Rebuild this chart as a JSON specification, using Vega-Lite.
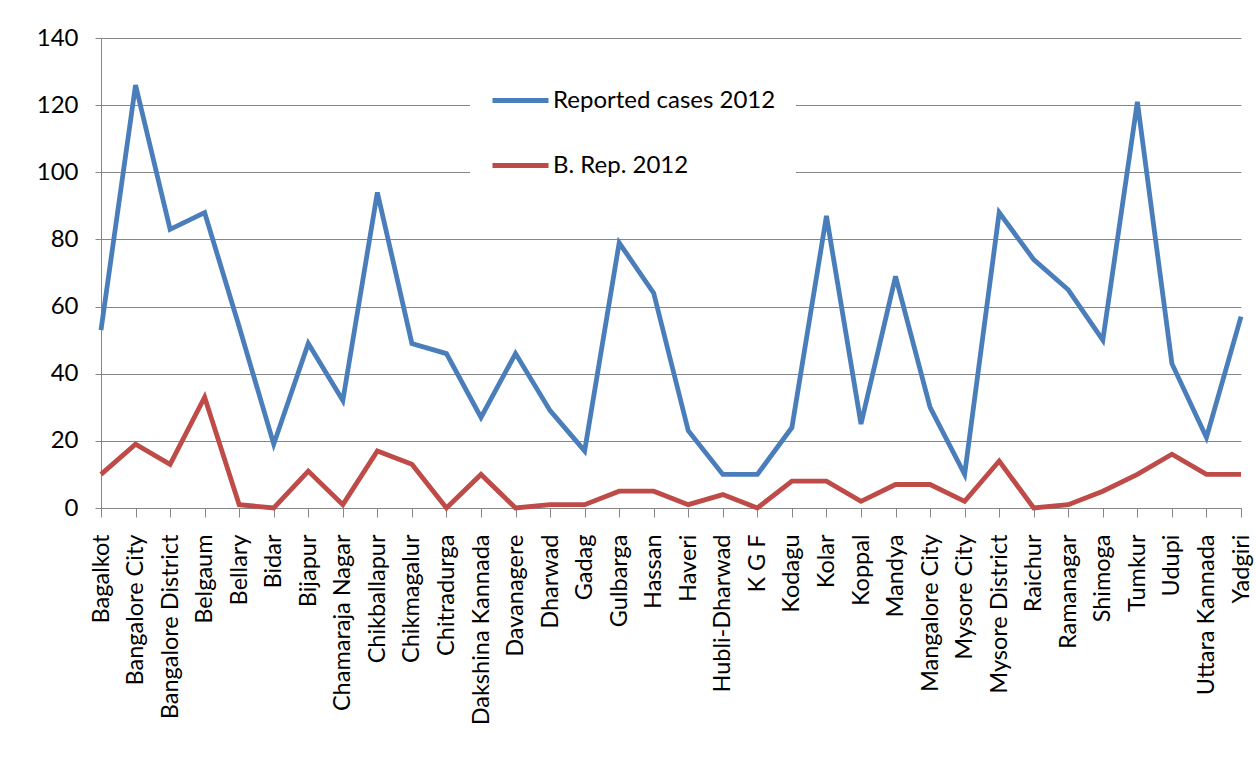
{
  "$schema": "https://vega.github.io/schema/vega-lite/v6.json",
  "width": 1140,
  "height": 470,
  "autosize": {"type": "none"},
  "padding": {"left": 101, "top": 38, "right": 15, "bottom": 249},
  "background": "white",
  "config": {
    "view": {"stroke": null},
    "font": "Lato"
  },
  "data": {
    "values": [
      {"district": "Bagalkot", "reported": 53, "brep": 10},
      {"district": "Bangalore City", "reported": 126, "brep": 19},
      {"district": "Bangalore District", "reported": 83, "brep": 13},
      {"district": "Belgaum", "reported": 88, "brep": 33},
      {"district": "Bellary", "reported": 54, "brep": 1},
      {"district": "Bidar", "reported": 19, "brep": 0},
      {"district": "Bijapur", "reported": 49, "brep": 11},
      {"district": "Chamaraja Nagar", "reported": 32, "brep": 1},
      {"district": "Chikballapur", "reported": 94, "brep": 17},
      {"district": "Chikmagalur", "reported": 49, "brep": 13},
      {"district": "Chitradurga", "reported": 46, "brep": 0},
      {"district": "Dakshina Kannada", "reported": 27, "brep": 10},
      {"district": "Davanagere", "reported": 46, "brep": 0},
      {"district": "Dharwad", "reported": 29, "brep": 1},
      {"district": "Gadag", "reported": 17, "brep": 1},
      {"district": "Gulbarga", "reported": 79, "brep": 5},
      {"district": "Hassan", "reported": 64, "brep": 5},
      {"district": "Haveri", "reported": 23, "brep": 1},
      {"district": "Hubli-Dharwad", "reported": 10, "brep": 4},
      {"district": "K G F", "reported": 10, "brep": 0},
      {"district": "Kodagu", "reported": 24, "brep": 8},
      {"district": "Kolar", "reported": 87, "brep": 8},
      {"district": "Koppal", "reported": 25, "brep": 2},
      {"district": "Mandya", "reported": 69, "brep": 7},
      {"district": "Mangalore City", "reported": 30, "brep": 7},
      {"district": "Mysore City", "reported": 10, "brep": 2},
      {"district": "Mysore District", "reported": 88, "brep": 14},
      {"district": "Raichur", "reported": 74, "brep": 0},
      {"district": "Ramanagar", "reported": 65, "brep": 1},
      {"district": "Shimoga", "reported": 50, "brep": 5},
      {"district": "Tumkur", "reported": 121, "brep": 10},
      {"district": "Udupi", "reported": 43, "brep": 16},
      {"district": "Uttara Kannada", "reported": 21, "brep": 10},
      {"district": "Yadgiri", "reported": 57, "brep": 10}
    ]
  },
  "transform": [
    {"fold": ["reported", "brep"], "as": ["series", "value"]}
  ],
  "mark": {"type": "line", "strokeWidth": 4.8},
  "encoding": {
    "x": {
      "field": "district",
      "type": "ordinal",
      "sort": null,
      "scale": {"type": "point", "padding": 0},
      "axis": {
        "title": null,
        "labelAngle": -90,
        "labelAlign": "right",
        "labelBaseline": "middle",
        "labelFontSize": 23.5,
        "labelColor": "#000000",
        "labelPadding": 17,
        "tickSize": 9,
        "tickColor": "#868686",
        "domainColor": "#868686",
        "labelLimit": 300,
        "grid": false
      }
    },
    "y": {
      "field": "value",
      "type": "quantitative",
      "scale": {"domain": [0, 140], "nice": false},
      "axis": {
        "title": null,
        "values": [0, 20, 40, 60, 80, 100, 120, 140],
        "labelFontSize": 24,
        "labelColor": "#000000",
        "labelPadding": 17,
        "tickSize": 6,
        "tickColor": "#868686",
        "domainColor": "#868686",
        "grid": true,
        "gridColor": "#868686",
        "gridOpacity": 1
      }
    },
    "color": {
      "field": "series",
      "type": "nominal",
      "scale": {
        "domain": ["reported", "brep"],
        "range": ["#4A7EBB", "#BE4B48"]
      },
      "legend": {
        "title": null,
        "orient": "none",
        "legendX": 369,
        "legendY": 12,
        "fillColor": "white",
        "padding": 20,
        "symbolType": "stroke",
        "symbolSize": 3136,
        "symbolStrokeWidth": 4.8,
        "labelFontSize": 24,
        "labelColor": "#000000",
        "labelOffset": 2,
        "labelLimit": 400,
        "rowPadding": 22,
        "labelExpr": "datum.label == 'reported' ? 'Reported cases 2012' : 'B. Rep. 2012'"
      }
    }
  }
}
